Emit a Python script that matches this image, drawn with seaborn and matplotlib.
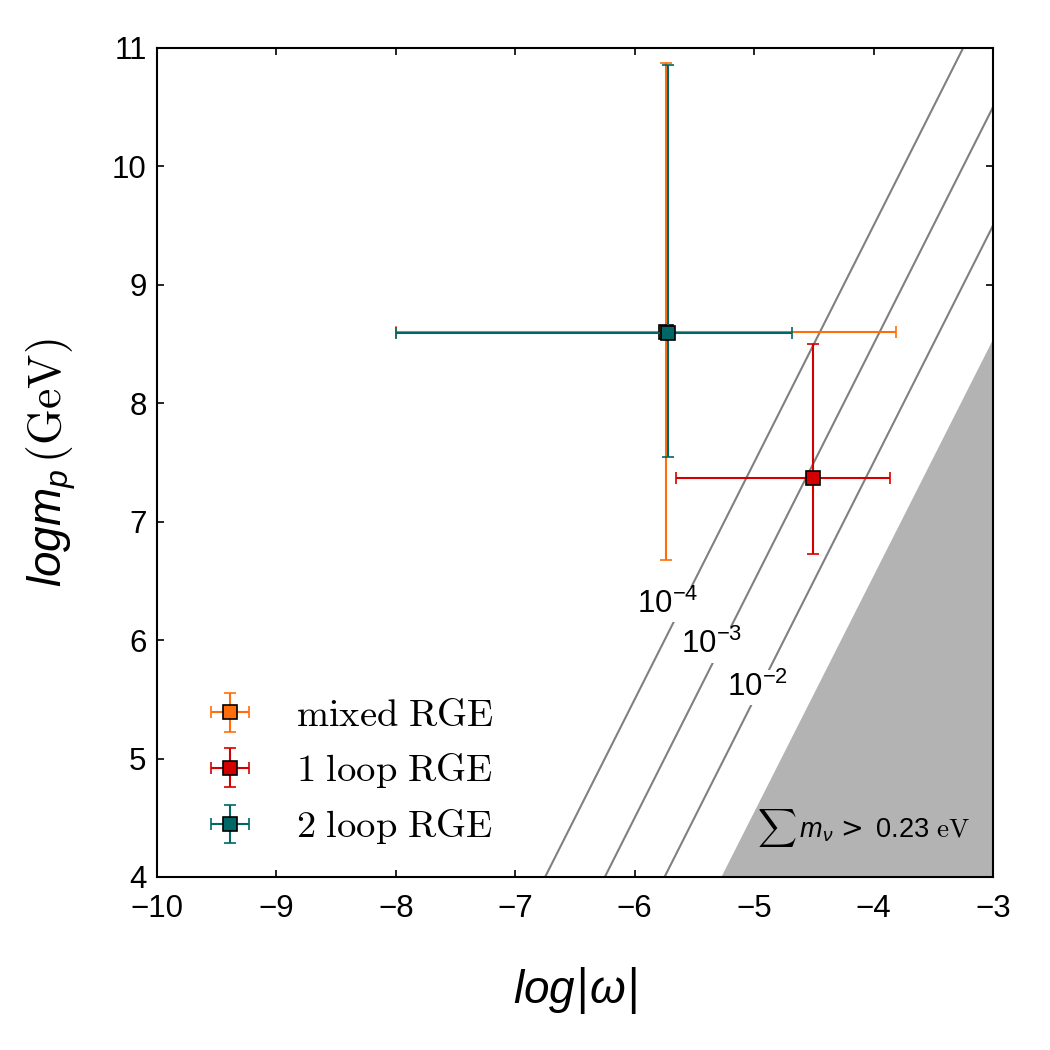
import numpy as np
import pandas as pd
import matplotlib
matplotlib.use("Agg")
import matplotlib.pyplot as plt
import seaborn as sns

# ---- data ----
series = ["mixed RGE", "1 loop RGE", "2 loop RGE"]
x_center = [-5.74, -4.51, -5.72]
x_low = [-8.00, -5.65, -8.00]
x_high = [-3.81, -3.86, -4.68]
y_center = [8.60, 7.37, 8.59]
y_low = [6.68, 6.73, 7.55]
y_high = [10.87, 8.50, 10.86]
colors = ["#ff6e0a", "#d40000", "#006666"]

contour_labels = [r"$\mathsf{10^{-4}}$", r"$\mathsf{10^{-3}}$", r"$\mathsf{10^{-2}}$"]
contour_x = [[-6.75, -3.25], [-6.25, -3.0], [-5.75, -3.0]]
contour_y = [[4.0, 11.0], [4.0, 10.5], [4.0, 9.5]]
label_x = [-5.72, -5.36, -4.97]
label_y = [6.30, 5.96, 5.60]

excl_x = [-5.28, -3.0]
excl_y = [4.0, 8.55]

xticks = [-10, -9, -8, -7, -6, -5, -4, -3]
yticks = [4, 5, 6, 7, 8, 9, 10, 11]

# ---- style ----
sns.set_style("white")
plt.rcParams["font.family"] = ["Liberation Sans", "DejaVu Sans"]
plt.rcParams["text.color"] = "black"
plt.rcParams["axes.labelcolor"] = "black"
plt.rcParams["xtick.color"] = "black"
plt.rcParams["ytick.color"] = "black"
plt.rcParams["mathtext.fontset"] = "custom"
plt.rcParams["mathtext.rm"] = "cmr10"
plt.rcParams["mathtext.it"] = "Liberation Sans:italic"
plt.rcParams["mathtext.sf"] = "Liberation Sans"
plt.rcParams["mathtext.cal"] = "DejaVu Serif"

fig = plt.figure(figsize=(7, 7), dpi=150)
ax = fig.add_axes([0.1495, 0.1648, 0.7962, 0.7895])

# exclusion region
ax.fill_between(excl_x, [4.0, 4.0], excl_y, color="#b3b3b3", lw=0, zorder=1)

# contour lines
lines_df = pd.DataFrame({
    "x": np.concatenate(contour_x),
    "y": np.concatenate(contour_y),
    "lab": np.repeat(contour_labels, 2),
})
sns.lineplot(data=lines_df, x="x", y="y", units="lab", estimator=None,
             color="#808080", lw=1.0, ax=ax, zorder=2, sort=False)
for lx, ly, lab in zip(label_x, label_y, contour_labels):
    ax.text(lx, ly, lab, fontsize=15, ha="center", va="center", zorder=3,
            bbox=dict(facecolor="white", edgecolor="none", pad=1))

# data points
for i, name in enumerate(series):
    xe = [[x_center[i] - x_low[i]], [x_high[i] - x_center[i]]]
    ye = [[y_center[i] - y_low[i]], [y_high[i] - y_center[i]]]
    ax.errorbar([x_center[i]], [y_center[i]], xerr=xe, yerr=ye, fmt="s",
                color=colors[i], mfc=colors[i], mec="black", mew=0.8, ms=6.5,
                elinewidth=1.0, capsize=3, capthick=1.0, zorder=4 + i,
                label=r"$\mathrm{" + name.replace(" ", r"\ ") + "}$")

ax.text(-4.98, 4.41, r"$\sum\, m_\nu\, \mathcal{>}$ 0.23 $\mathrm{eV}$", fontsize=13,
        ha="left", va="center", zorder=5)

ax.set_xlim(-10, -3)
ax.set_ylim(4, 11)
ax.set_xticks(xticks)
ax.set_yticks(yticks)
ax.set_xticklabels([("\u2212" + str(abs(t))) if t < 0 else str(t) for t in xticks], fontsize=15)
ax.set_yticklabels([str(t) for t in yticks], fontsize=15)
ax.tick_params(direction="in", length=3.5, width=0.8, top=True, right=True,
               bottom=True, left=True)
ax.tick_params(axis="x", pad=8)
ax.tick_params(axis="y", pad=5)
for s in ax.spines.values():
    s.set_visible(True)
    s.set_color("black")
    s.set_linewidth(1.0)

ax.set_xlabel(r"$log\mathcal{|}\omega\mathcal{|}$", fontsize=22, labelpad=20)
ax.set_ylabel(r"$log m_p\,(\mathrm{GeV})$", fontsize=22, labelpad=16)

ax.legend(loc="lower left", frameon=False, fontsize=18.5, numpoints=1,
          bbox_to_anchor=(0.0, -0.005), handletextpad=0.7, labelspacing=0.45,
          handlelength=2.0)

fig.savefig("out.png", dpi=150)
